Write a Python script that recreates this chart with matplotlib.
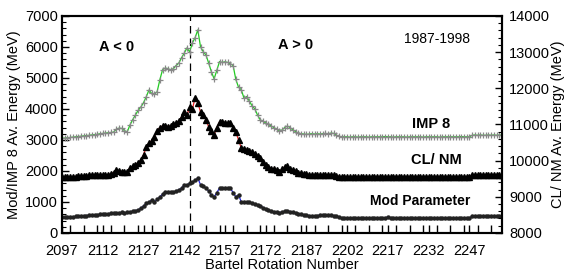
import numpy as np
import matplotlib
matplotlib.use("Agg")
import matplotlib.pyplot as plt
from matplotlib.ticker import MultipleLocator

plt.rcParams['font.family'] = ['Liberation Sans', 'DejaVu Sans']

# Bartels rotations 2097 .. 2259
first_rot = 2097

imp8 = [3050, 3060, 3070, 3080, 3090, 3100, 3110, 3120, 3130, 3140,
        3150, 3160, 3170, 3180, 3200, 3210, 3220, 3230, 3240, 3250,
        3350, 3380, 3370, 3300, 3260, 3480, 3650, 3800, 3950, 4060,
        4200, 4390, 4610, 4500, 4480, 4550, 4935, 5260, 5320, 5300,
        5260, 5300, 5400, 5480, 5650, 5800, 5970, 5840, 6130, 6300,
        6550, 6000, 5850, 5740, 5480, 5200, 4970, 5250, 5530, 5500,
        5520, 5500, 5460, 5400, 4950, 4700, 4620, 4350, 4400, 4250,
        4100, 4000, 3800, 3650, 3600, 3550, 3500, 3450, 3400, 3350,
        3300, 3320, 3400, 3450, 3400, 3320, 3270, 3220, 3200, 3190,
        3180, 3190, 3200, 3190, 3200, 3190, 3200, 3210, 3200, 3220,
        3210, 3150, 3120, 3100, 3100, 3100, 3090, 3100, 3100, 3090,
        3100, 3100, 3100, 3090, 3100, 3100, 3100, 3100, 3100, 3110,
        3100, 3100, 3090, 3100, 3100, 3100, 3100, 3090, 3100, 3100,
        3100, 3100, 3100, 3090, 3100, 3100, 3100, 3100, 3100, 3090,
        3100, 3100, 3100, 3100, 3100, 3100, 3100, 3110, 3100, 3100,
        3100, 3150, 3160, 3150, 3160, 3150, 3150, 3160, 3150, 3160,
        3150, 3160, 3150]

# CL/NM in right-axis MeV
clnm = [9540, 9540, 9550, 9550, 9560, 9560, 9570, 9570, 9580, 9580,
        9590, 9590, 9595, 9595, 9600, 9600, 9610, 9610, 9630, 9670,
        9740, 9710, 9690, 9690, 9690, 9800, 9840, 9890, 9940, 10010,
        10160, 10370, 10490, 10550, 10660, 10830, 10910, 10960, 10960, 10940,
        10960, 11000, 11040, 11090, 11210, 11340, 11260, 11480, 11430, 11730,
        11600, 11340, 11260, 11130, 10930, 10830, 10710, 10910, 11070, 11070,
        11050, 11050, 11040, 10910, 10790, 10570, 10350, 10310, 10300, 10260,
        10240, 10190, 10130, 10070, 9970, 9890, 9830, 9780, 9760, 9740,
        9690, 9760, 9830, 9840, 9780, 9740, 9710, 9660, 9650, 9630,
        9620, 9610, 9610, 9600, 9600, 9600, 9595, 9600, 9600, 9595,
        9590, 9580, 9560, 9545, 9545, 9540, 9545, 9540, 9545, 9540,
        9545, 9540, 9545, 9540, 9545, 9540, 9545, 9540, 9545, 9540,
        9545, 9540, 9545, 9540, 9545, 9540, 9545, 9540, 9545, 9540,
        9545, 9540, 9545, 9540, 9545, 9540, 9545, 9540, 9545, 9540,
        9545, 9540, 9545, 9540, 9545, 9540, 9545, 9540, 9545, 9540,
        9545, 9600, 9605, 9600, 9605, 9600, 9605, 9600, 9605, 9600,
        9605, 9600, 9605]

modpar = [500, 500, 510, 520, 520, 530, 540, 550, 560, 560,
          570, 580, 580, 590, 600, 600, 610, 620, 630, 640,
          650, 650, 660, 650, 660, 680, 700, 720, 740, 800,
          870, 950, 1000, 1060, 1000, 1080, 1160, 1250, 1320, 1330,
          1320, 1320, 1350, 1390, 1450, 1550, 1550, 1600, 1640, 1700,
          1770, 1550, 1500, 1450, 1350, 1230, 1160, 1300, 1450, 1450,
          1450, 1450, 1440, 1300, 1160, 1230, 1000, 1000, 1000, 1000,
          950, 920, 900, 880, 820, 780, 740, 700, 680, 660,
          650, 680, 700, 710, 690, 670, 650, 620, 600, 580,
          570, 560, 550, 550, 560, 570, 570, 580, 570, 580,
          560, 530, 500, 480, 480, 480, 480, 480, 480, 480,
          480, 480, 480, 480, 480, 480, 480, 480, 480, 480,
          520, 480, 470, 470, 470, 470, 470, 470, 470, 470,
          470, 470, 470, 470, 470, 470, 470, 470, 470, 470,
          470, 470, 470, 470, 470, 470, 470, 470, 470, 470,
          470, 550, 550, 550, 550, 550, 550, 550, 550, 550,
          550, 550, 550]

rot = np.arange(first_rot, first_rot + len(imp8))
xticks = [2097, 2112, 2127, 2142, 2157, 2172, 2187, 2202, 2217, 2232, 2247]
sector_boundary = 2144

fig = plt.figure(figsize=(5.64, 2.75), dpi=100)
ax = fig.add_axes([0.110, 0.153, 0.780, 0.789])
ax2 = ax.twinx()

ax.plot(rot, imp8, color='#22cc22', lw=0.9, marker='+', ms=4.5,
        mec='#888888', mew=0.9, zorder=3)
ax.plot(rot, modpar, color='#2222dd', lw=0.9, marker='o', ms=2.2,
        mec='#222222', mfc='#222222', zorder=3)
ax2.plot(rot, clnm, color='#ee2222', lw=0.9, marker='^', ms=4.2,
         mec='black', mfc='black', zorder=3)

ax.axvline(sector_boundary, color='black', lw=0.9, ls=(0, (6, 4)))

ax.set_xlim(2097, 2259)
ax.set_ylim(0, 7000)
ax2.set_ylim(8000, 14000)
ax.set_xticks(xticks)
ax.xaxis.set_minor_locator(MultipleLocator(5))
ax.yaxis.set_major_locator(MultipleLocator(1000))
ax.yaxis.set_minor_locator(MultipleLocator(200))
ax2.yaxis.set_major_locator(MultipleLocator(1000))
ax2.yaxis.set_minor_locator(MultipleLocator(200))

fs = 10.5
ax.tick_params(axis='both', which='both', direction='in', labelsize=fs)
ax.tick_params(axis='x', which='both', length=6, width=1, pad=8)
ax.tick_params(axis='y', which='major', length=5, width=1, pad=3)
ax.tick_params(axis='y', which='minor', length=3, width=0.8)
ax2.tick_params(axis='y', which='major', direction='in', length=5, width=1,
                labelsize=fs, pad=5)
ax2.tick_params(axis='y', which='minor', direction='in', length=3, width=0.8)
for a in (ax, ax2):
    for s in a.spines.values():
        s.set_linewidth(1.5)

ax.set_xlabel('Bartel Rotation Number', fontsize=fs, labelpad=0)
ax.set_ylabel('Mod/IMP 8 Av. Energy (MeV)', fontsize=fs, labelpad=3)
ax2.set_ylabel('CL/ NM Av. Energy (MeV)', fontsize=fs, labelpad=1)

ax.text(2117, 6000, 'A < 0', fontsize=10.5, fontweight='bold', ha='center', va='center')
ax.text(2183, 6050, 'A > 0', fontsize=10.5, fontweight='bold', ha='center', va='center')
ax.text(2235, 6250, '1987-1998', fontsize=10, ha='center', va='center')
ax.text(2233, 3520, 'IMP 8', fontsize=10.5, fontweight='bold', ha='center', va='center')
ax.text(2235, 2350, 'CL/ NM', fontsize=10.5, fontweight='bold', ha='center', va='center')
ax.text(2229, 1030, 'Mod Parameter', fontsize=10, fontweight='bold', ha='center', va='center')

fig.savefig('out.png', dpi=100)
